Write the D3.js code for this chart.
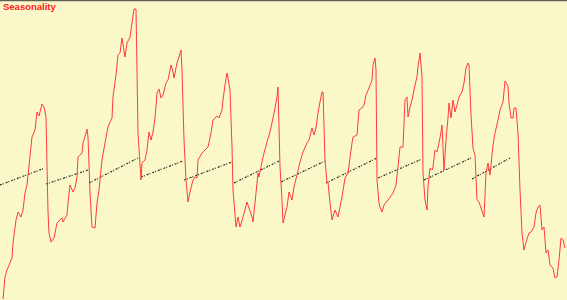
<!DOCTYPE html>
<html>
<head>
<meta charset="utf-8">
<script src="https://cdn.jsdelivr.net/npm/d3@7"></script>
<style>
html,body{margin:0;padding:0;background:#faf8c8;}
svg{display:block;}
</style>
</head>
<body>
<script>
// Time index of each observation
const periods = [3,5,7,12,13,16,18,21,23,25,27,32,35,37,39,42,44,46,48,49,51,54,57,59,62,63,67,68,70,73,75,77,78,82,83,86,87,88,90,92,95,97,99,102,105,108,110,112,113,116,118,120,122,125,127,130,132,134,136,138,141,142,145,147,149,151,153,155,157,159,161,163,166,168,171,173,174,177,179,181,182,184,186,188,190,193,195,197,198,202,205,208,211,213,217,219,222,223,225,227,228,230,232,233,236,238,240,243,247,249,252,253,256,258,259,261,263,267,270,273,275,277,278,280,282,283,285,287,289,292,294,297,300,303,307,309,312,314,316,318,320,322,323,325,327,328,330,332,335,338,342,345,348,352,353,357,359,362,364,366,369,372,373,375,376,377,379,380,382,384,388,393,396,398,400,403,405,407,408,410,412,413,415,417,418,420,422,423,425,427,428,430,432,433,435,437,440,442,444,446,448,449,451,453,455,457,459,462,464,466,468,469,471,473,474,475,477,479,481,484,486,488,490,493,495,498,500,503,505,508,509,511,513,514,516,518,520,522,524,526,529,531,534,536,538,540,542,544,546,548,550,553,555,557,559,561,563,565];
// Observed values
const values = [1,23,30,42,57,80,88,83,90,107,115,163,170,188,184,196,193,183,88,67,58,62,77,79,82,78,85,97,115,108,112,123,143,147,157,167,171,163,107,73,72,97,110,140,157,173,178,182,203,225,245,247,262,243,257,263,277,291,291,167,120,137,140,150,168,160,168,182,207,211,202,205,217,220,235,228,222,237,243,250,230,160,120,98,108,120,123,122,140,147,150,153,167,180,184,182,190,200,215,227,222,210,153,110,73,83,73,83,98,92,83,78,107,127,123,133,143,158,168,182,192,203,213,133,100,77,85,93,108,100,113,125,138,148,157,160,172,165,172,187,198,208,208,140,117,118,97,80,90,83,103,122,127,157,163,165,190,192,195,205,212,220,235,242,230,120,97,93,88,95,100,107,115,133,153,153,200,203,183,193,200,205,215,223,233,247,223,127,100,90,113,132,130,133,150,148,162,175,130,160,182,197,182,200,188,195,203,208,217,232,237,235,185,152,148,145,100,98,92,83,127,137,125,155,167,180,190,198,219,214,197,182,182,192,192,167,110,67,50,58,67,68,73,87,93,95,70,73,47,50,35,32,22,23,40,62,60,52];
// Seasonal trend segments: start/end period and start/end level
const trendStart = [0,46,89,141,184,234,281,326,378,424,472];
const trendEnd   = [45,88,138,183,232,279,325,377,422,471,510];
const trendStartValue = [115,116,117,123,120,117,118,117,122,120,121];
const trendEndValue   = [132,130,142,139,138,139,139,142,141,142,142];
const title = "Seasonality";

const W = 567, H = 300;
const svg = d3.select("body").append("svg").attr("width", W).attr("height", H);
svg.append("rect").attr("width", W).attr("height", H).attr("fill", "#faf8c8");

const x = d3.scaleLinear().domain([0, 567]).range([0, W]);
const y = d3.scaleLinear().domain([0, 300]).range([H, 0]);

const series = periods.map((p, i) => ({p, v: values[i]}));
const line = d3.line().x(d => x(d.p)).y(d => y(d.v));

const trends = trendStart.map((s, i) => ({s, e: trendEnd[i], sv: trendStartValue[i], ev: trendEndValue[i]}));
svg.append("g").selectAll("line").data(trends).join("line")
  .attr("x1", d => x(d.s)).attr("y1", d => y(d.sv))
  .attr("x2", d => x(d.e)).attr("y2", d => y(d.ev))
  .attr("stroke", "#2a2a2a").attr("stroke-width", 1.2)
  .attr("stroke-dasharray", "2,1,1,2");

svg.append("path").datum(series)
  .attr("d", line).attr("fill", "none")
  .attr("stroke", "#ff3b3b").attr("stroke-width", 1);

svg.append("line").attr("x1", 0).attr("x2", W).attr("y1", 0.5).attr("y2", 0.5)
  .attr("stroke", "#5e5e55").attr("stroke-width", 1.5);

svg.append("text").attr("x", 3).attr("y", 9.5)
  .attr("font-family", "Liberation Sans, Arial, sans-serif")
  .attr("font-weight", "bold").attr("font-size", "9.5px")
  .attr("fill", "#ff2020").text(title);
</script>
</body>
</html>
